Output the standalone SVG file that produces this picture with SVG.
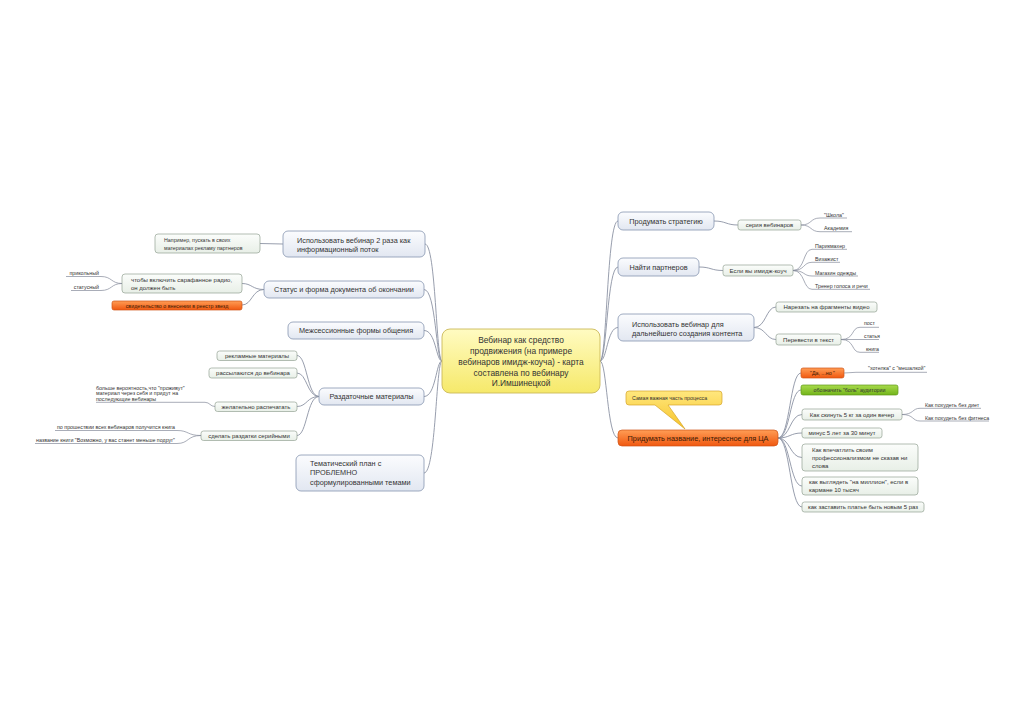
<svg xmlns="http://www.w3.org/2000/svg" width="1024" height="723" viewBox="0 0 1024 723">
<defs>
<linearGradient id="gMain" x1="0" y1="0" x2="0" y2="1"><stop offset="0" stop-color="#fbfcfe"/><stop offset="1" stop-color="#e2e7f1"/></linearGradient>
<linearGradient id="gSub" x1="0" y1="0" x2="0" y2="1"><stop offset="0" stop-color="#fbfdfb"/><stop offset="1" stop-color="#e8efe7"/></linearGradient>
<linearGradient id="gCenter" x1="0" y1="0" x2="0" y2="1"><stop offset="0" stop-color="#fffbc2"/><stop offset="1" stop-color="#f6e96a"/></linearGradient>
<linearGradient id="gOrange" x1="0" y1="0" x2="0" y2="1"><stop offset="0" stop-color="#ff9d55"/><stop offset="1" stop-color="#f05810"/></linearGradient>
<linearGradient id="gGreen" x1="0" y1="0" x2="0" y2="1"><stop offset="0" stop-color="#a8da4c"/><stop offset="1" stop-color="#72b41a"/></linearGradient>
<linearGradient id="gCallout" x1="0" y1="0" x2="0" y2="1"><stop offset="0" stop-color="#ffe77e"/><stop offset="1" stop-color="#f7c428"/></linearGradient>
<style>
text{font-family:"Liberation Sans",Arial,sans-serif;fill:#333}
.main{fill:url(#gMain);stroke:#8796b0;stroke-width:0.8}
.sub{fill:url(#gSub);stroke:#94a294;stroke-width:0.7}
.orange{fill:url(#gOrange);stroke:#cf5418;stroke-width:0.7}
.green{fill:url(#gGreen);stroke:#5f9a18;stroke-width:0.7}
.tm{font-size:7.3px}
.ts{font-size:6px}
.tl{font-size:5.3px}
.tc{font-size:8.4px}
.mid{text-anchor:middle}
.end{text-anchor:end}
.dark{fill:#3a1a05}
#connectors path{fill:none;stroke:#8c93a4;stroke-width:0.9}
.ul{fill:none;stroke:#848a9a;stroke-width:0.7}
</style>
</defs>
<rect width="1024" height="723" fill="#ffffff"/>

<g id="connectors">
<path d="M442,361 C436,361 436,244 425,244"/>
<path d="M442,361 C436,361 436,289.5 424,289.5"/>
<path d="M442,361 C436,361 436,330.5 424,330.5"/>
<path d="M442,361 C436,361 436,396.5 424,396.5"/>
<path d="M442,361 C436,361 436,473 424,473"/>
<path d="M600,361 C607,361 607,221 618,221"/>
<path d="M600,361 C607,361 607,267 618,267"/>
<path d="M600,361 C607,361 607,327.5 618,327.5"/>
<path d="M600,361 C607,361 607,438 618,438"/>
<path d="M283,244 L260,243.5"/>
<path d="M264,289.5 C252,289.5 252,283.5 242,283.5"/>
<path d="M264,289.5 C252,289.5 252,305 242,305"/>
<path d="M319,396.5 C307,396.5 307,355.5 297,355.5"/>
<path d="M319,396.5 C307,396.5 307,373 297,373"/>
<path d="M319,396.5 C307,396.5 307,406.5 297,406.5"/>
<path d="M319,396.5 C307,396.5 307,435.5 297,435.5"/>
<path d="M714,221 C726,221 726,225 738,225"/>
<path d="M699,267 C711,267 711,270.5 723,270.5"/>
<path d="M754,327.5 C766,327.5 766,307 776,307"/>
<path d="M754,327.5 C766,327.5 766,339.5 776,339.5"/>
<path d="M778,438 C790,438 790,373 801,373"/>
<path d="M778,438 C790,438 790,390 801,390"/>
<path d="M778,438 C790,438 790,414.5 802,414.5"/>
<path d="M778,438 C790,438 790,433 802,433"/>
<path d="M778,438 C790,438 790,457.5 802,457.5"/>
<path d="M778,438 C790,438 790,486 802,486"/>
<path d="M778,438 C790,438 790,507 802,507"/>
</g>

<g id="center">
<rect x="442" y="329" width="158" height="64" rx="8" fill="url(#gCenter)" stroke="#cbb95a" stroke-width="0.9"/>
<text class="tc mid" x="521"><tspan x="521" y="343">Вебинар как средство</tspan><tspan x="521" y="354">продвижения (на примере</tspan><tspan x="521" y="365">вебинаров имидж-коуча) - карта</tspan><tspan x="521" y="375.5">составлена по вебинару</tspan><tspan x="521" y="386">И.Имшинецкой</tspan></text>
</g>

<g id="n-use-twice">
<rect class="main" x="283" y="231" width="142" height="26" rx="5"/>
<text class="tm" x="297"><tspan x="297" y="242.7">Использовать вебинар 2 раза как</tspan><tspan x="297" y="252">информационный поток</tspan></text>
</g>
<g id="n-example">
<rect class="sub" x="155" y="234" width="105" height="19" rx="3"/>
<text class="tl" x="164"><tspan x="164" y="242">Например, пускать в своих</tspan><tspan x="164" y="250">материалах рекламу партнеров</tspan></text>
</g>

<g id="n-status">
<rect class="main" x="264" y="281" width="160" height="17" rx="5"/>
<text class="tm mid" x="344" y="292.3">Статус и форма документа об окончании</text>
</g>
<g id="n-radio">
<rect class="sub" x="122" y="274" width="120" height="19" rx="3"/>
<text class="ts" x="131"><tspan x="131" y="282">чтобы включить сарафанное радио,</tspan><tspan x="131" y="289.5">он должен быть</tspan></text>
</g>
<g id="n-cert">
<rect class="orange" x="112" y="301" width="130" height="9" rx="2"/>
<text class="tl mid dark" x="177" y="307.6">свидетельство о внесении в реестр звезд</text>
</g>
<g id="l-funny">
<path class="ul" d="M66,276.5 H101 C112,276.5 111,283.5 122,283.5"/>
<text class="tl end" x="99" y="275">прикольный</text>
</g>
<g id="l-status">
<path class="ul" d="M71,290.5 H101 C112,290.5 111,283.5 122,283.5"/>
<text class="tl end" x="99" y="289">статусный</text>
</g>

<g id="n-intersession">
<rect class="main" x="288" y="322" width="136" height="17" rx="5"/>
<text class="tm mid" x="356" y="333.2">Межсессионные формы общения</text>
</g>

<g id="n-handouts">
<rect class="main" x="319" y="388" width="105" height="17" rx="5"/>
<text class="tm mid" x="371.5" y="399.2">Раздаточные материалы</text>
</g>
<g id="n-ads">
<rect class="sub" x="217" y="351" width="80" height="9.5" rx="2.5"/>
<text class="ts mid" x="257" y="358">рекламные материалы</text>
</g>
<g id="n-mailed">
<rect class="sub" x="209" y="368" width="88" height="10" rx="2.5"/>
<text class="ts mid" x="253" y="375.3">рассылаются до вебинара</text>
</g>
<g id="n-print">
<rect class="sub" x="215" y="402" width="82" height="9.5" rx="2.5"/>
<text class="ts mid" x="256" y="409">желательно распечатать</text>
</g>
<g id="l-print">
<path class="ul" d="M96,402.3 H205 C210,402.3 210,406.5 215,406.5"/>
<text class="tl" x="96"><tspan x="96" y="389.5">больше вероятность,что "проживут"</tspan><tspan x="96" y="395">материал через себя и придут на</tspan><tspan x="96" y="400.5">последующие вебинары</tspan></text>
</g>
<g id="n-serial">
<rect class="sub" x="201" y="431" width="96" height="9.5" rx="2.5"/>
<text class="ts mid" x="249" y="438">сделать раздатки серийными</text>
</g>
<g id="l-book">
<path class="ul" d="M55,430.5 H177 C189,430.5 187,435.5 201,435.5"/>
<text class="tl" x="57" y="428.7">по прошествии всех вебинаров получится книга</text>
</g>
<g id="l-bookname">
<path class="ul" d="M35,443.5 H177 C189,443.5 187,435.5 201,435.5"/>
<text class="tl" x="36" y="441.8">название книги "Возможно, у вас станет меньше подруг"</text>
</g>

<g id="n-themes">
<rect class="main" x="296" y="455" width="128" height="36" rx="5"/>
<text class="tm" x="310"><tspan x="310" y="465.5">Тематический план с</tspan><tspan x="310" y="475">ПРОБЛЕМНО</tspan><tspan x="310" y="484.5">сформулированными темами</tspan></text>
</g>

<g id="n-strategy">
<rect class="main" x="618" y="212" width="96" height="18" rx="5"/>
<text class="tm mid" x="666" y="223.6">Продумать стратегию</text>
</g>
<g id="n-series">
<rect class="sub" x="738" y="220" width="63" height="10" rx="2.5"/>
<text class="ts mid" x="769.5" y="227.2">серия вебинаров</text>
</g>
<g id="l-school">
<path class="ul" d="M801,225 C812,225 810,218 820,218 H847"/>
<text class="tl" x="824" y="216.6">"Школа"</text>
</g>
<g id="l-academy">
<path class="ul" d="M801,225 C812,225 810,231.7 820,231.7 H852"/>
<text class="tl" x="824" y="230.3">Академия</text>
</g>

<g id="n-partners">
<rect class="main" x="618" y="258" width="81" height="18" rx="5"/>
<text class="tm mid" x="658.5" y="269.6">Найти партнеров</text>
</g>
<g id="n-coach">
<rect class="sub" x="723" y="265" width="70" height="11" rx="2.5"/>
<text class="ts mid" x="758" y="272.7">Если вы имидж-коуч</text>
</g>
<g id="l-hair">
<path class="ul" d="M793,270.5 C805,270.5 803,249.3 812,249.3 H847"/>
<text class="tl" x="815" y="248">Парикмахер</text>
</g>
<g id="l-makeup">
<path class="ul" d="M793,270.5 C805,270.5 803,262.3 812,262.3 H840"/>
<text class="tl" x="815" y="261">Визажист</text>
</g>
<g id="l-shop">
<path class="ul" d="M793,270.5 C805,270.5 803,276 812,276 H858"/>
<text class="tl" x="815" y="274.7">Магазин одежды</text>
</g>
<g id="l-voice">
<path class="ul" d="M793,270.5 C805,270.5 803,289.3 812,289.3 H870"/>
<text class="tl" x="815" y="288">Тренер голоса и речи</text>
</g>

<g id="n-content">
<rect class="main" x="618" y="314" width="136" height="27" rx="5"/>
<text class="tm" x="632"><tspan x="632" y="326.5">Использовать вебинар для</tspan><tspan x="632" y="335.7">дальнейшего создания контента</tspan></text>
</g>
<g id="n-cut">
<rect class="sub" x="776" y="302" width="101" height="10" rx="2.5"/>
<text class="ts mid" x="826.5" y="309.2">Нарезать на фрагменты видео</text>
</g>
<g id="n-totext">
<rect class="sub" x="776" y="334" width="65" height="11" rx="2.5"/>
<text class="ts mid" x="808.5" y="341.7">Перевести в текст</text>
</g>
<g id="l-post">
<path class="ul" d="M841,339.5 C855,339.5 851,327.3 860,327.3 H879"/>
<text class="tl" x="864" y="325">пост</text>
</g>
<g id="l-article">
<path class="ul" d="M841,339.5 H879"/>
<text class="tl" x="864" y="338.3">статья</text>
</g>
<g id="l-book2">
<path class="ul" d="M841,339.5 C855,339.5 851,352.3 860,352.3 H879"/>
<text class="tl" x="866" y="351.2">книга</text>
</g>

<g id="n-title">
<rect class="orange" x="618" y="430" width="160" height="16" rx="4"/>
<text class="tm mid dark" x="698" y="440.6">Придумать название, интересное для ЦА</text>
</g>
<g id="callout">
<path d="M629,391 H719 Q722,391 722,394 V402 Q722,405 719,405 H668 L685,429 L655,405 H629 Q626,405 626,402 V394 Q626,391 629,391 Z" fill="url(#gCallout)" stroke="#d6a52a" stroke-width="0.7"/>
<text class="tl" x="632" y="399.8" fill="#4a3a10">Самая важная часть процесса</text>
</g>
<g id="n-yesbut">
<rect class="orange" x="801" y="368" width="43" height="10" rx="2"/>
<text class="tl mid dark" x="822.5" y="375">"Да, ...но "</text>
</g>
<g id="l-wish">
<path class="ul" d="M844,373 L856,372.3 H927"/>
<text class="tl" x="868" y="370">"хотелка" с "мешалкой"</text>
</g>
<g id="n-pain">
<rect class="green" x="801" y="385" width="97" height="10" rx="2"/>
<text class="tl mid" x="849.5" y="392" fill="#223a05">обозначить "боль" аудитории</text>
</g>
<g id="n-5kg">
<rect class="sub" x="802" y="409" width="100" height="11" rx="2.5"/>
<text class="ts mid" x="852" y="416.7">Как скинуть 5 кг за один вечер</text>
</g>
<g id="l-nodiet">
<path class="ul" d="M902,414.5 C914,414.5 912,408.3 920,408.3 H981"/>
<text class="tl" x="925" y="406.8">Как похудеть без диет</text>
</g>
<g id="l-nofit">
<path class="ul" d="M902,414.5 C914,414.5 912,421 920,421 H989"/>
<text class="tl" x="925" y="419.8">Как похудеть без фитнеса</text>
</g>
<g id="n-minus5">
<rect class="sub" x="802" y="428" width="80" height="10" rx="2.5"/>
<text class="ts mid" x="842" y="435.2">минус 5 лет за 30 минут</text>
</g>
<g id="n-impress">
<rect class="sub" x="802" y="444" width="116" height="27" rx="3"/>
<text class="ts" x="812"><tspan x="812" y="452">Как впечатлить своим</tspan><tspan x="812" y="460">профессионализмом не сказав ни</tspan><tspan x="812" y="468">слова</tspan></text>
</g>
<g id="n-million">
<rect class="sub" x="802" y="477" width="116" height="18" rx="3"/>
<text class="ts" x="809"><tspan x="809" y="484.2">как выглядеть "на миллион", если в</tspan><tspan x="809" y="492">кармане 10 тысяч</tspan></text>
</g>
<g id="n-dress">
<rect class="sub" x="802" y="502" width="122" height="10" rx="2.5"/>
<text class="ts mid" x="863" y="509.2">как заставить платье быть новым 5 раз</text>
</g>
</svg>
